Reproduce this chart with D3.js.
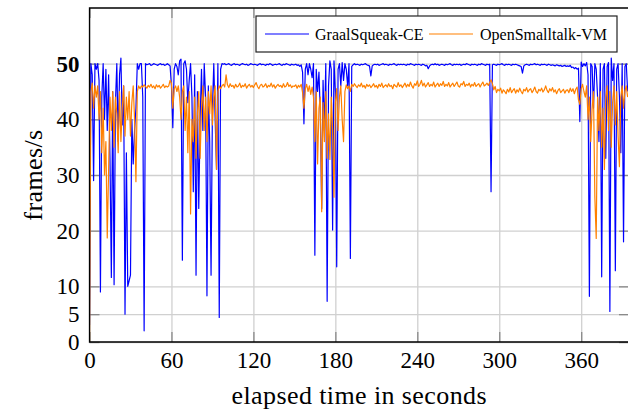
<!DOCTYPE html>
<html>
<head>
<meta charset="utf-8">
<script src="https://cdn.jsdelivr.net/npm/d3@7"></script>
<style>
    body { margin: 0; background: #fff; }
    text { font-family: "Liberation Serif", "Times New Roman", serif; fill: #000; }
</style>
</head>
<body>
<script>
// frame rate samples, one per second
var sampleStep = 1;

var seriesNames = ["GraalSqueak-CE", "OpenSmalltalk-VM"];

var graalFps = [
    3, 50, 48, 29, 50, 49, 50, 47, 9, 44,
    50, 40, 49, 38, 48, 33, 11.6, 45, 10.3, 43,
    50, 36, 48, 51, 39, 46, 5, 34, 10, 11,
    12, 40, 32, 38, 42, 50, 49, 50, 50, 44,
    2, 50, 49.8, 49.9, 50, 49.7, 49.8, 50, 49.9, 49.8,
    49.7, 49.9, 50, 49.8, 49.9, 49.7, 49.8, 50, 49.8, 49.6,
    46, 38.5, 49, 50, 49.5, 48, 50.5, 50.8, 14.7, 50,
    50.5, 49, 43, 47, 50, 44, 27, 48, 12, 45,
    24, 40, 49, 38, 50, 44, 8.3, 46, 36, 12,
    42, 50, 40, 31, 50, 4.4, 49, 50, 49.9, 50,
    49.8, 49.9, 50, 49.8, 49.7, 49.9, 50, 49.8, 49.9, 49.8,
    49.7, 49.9, 50, 49.9, 49.8, 49.9, 49.7, 49.8, 50, 49.9,
    49.8, 49.9, 49.8, 49.7, 49.9, 50, 49.8, 49.9, 49.8, 49.7,
    49.9, 49.8, 50, 49.9, 49.7, 49.8, 49.9, 49.8, 49.9, 50,
    49.8, 49.7, 49.9, 49.8, 50, 49.9, 49.8, 49.7, 49.9, 49.8,
    49.8, 49.9, 49.7, 49.8, 49.5, 49.8, 48.5, 39.2, 49, 50,
    48, 50, 49, 47.5, 50, 15.6, 49, 45, 48.5, 41,
    24, 47, 38, 50, 7.3, 46, 50.5, 49, 20.1, 50.5,
    45, 13.5, 49, 50, 46, 50.2, 47, 50, 49, 46,
    50, 15, 49.5, 49.8, 50, 49.8, 49.9, 49.8, 49.7, 49.9,
    49.8, 49.9, 50, 49.8, 49.7, 49.6, 47.8, 49.6, 49.8, 49.9,
    49.8, 49.9, 49.7, 49.8, 49.9, 50, 49.8, 49.9, 49.8, 49.7,
    49.9, 49.8, 49.9, 50, 49.8, 49.7, 49.9, 49.8, 49.9, 49.8,
    49.9, 49.8, 49.7, 49.9, 49.8, 50, 49.9, 49.8, 49.7, 49.9,
    49.8, 49.9, 49.8, 49.7, 49.9, 49.8, 49.6, 49.7, 49.1, 49.6,
    49.8, 49.9, 49.8, 50, 49.8, 49.9, 49.7, 49.8, 49.9, 49.8,
    49.7, 49.9, 49.8, 49.9, 50, 49.8, 49.7, 49.9, 49.8, 49.9,
    49.8, 49.9, 49.7, 49.8, 49.9, 49.8, 50, 49.9, 49.8, 49.7,
    49.9, 49.8, 49.9, 49.8, 49.7, 49.9, 49.8, 50, 49.9, 49.8,
    49.7, 49.9, 49.8, 49.9, 27, 49.8, 49.9, 49.8, 49.7, 49.9,
    49.8, 49.9, 50, 49.8, 49.7, 49.9, 49.8, 49.9, 49.8, 49.7,
    49.9, 49.8, 49.9, 49.8, 49.7, 49.6, 49.5, 48.3, 49.6, 49.8,
    49.9, 49.8, 49.7, 49.9, 49.8, 49.9, 50, 49.8, 49.9, 49.8,
    49.7, 49.9, 49.8, 49.9, 49.8, 49.7, 49.9, 49.8, 49.7, 49.8,
    49.7, 49.6, 49.8, 49.7, 49.6, 49.7, 49.5, 49.6, 49.7, 49.5,
    49.6, 49.5, 49.7, 49.3, 49.4, 49.1, 49.3, 49, 49.2, 39.6,
    50.3, 49.5, 50, 49.6, 50.2, 48, 8.2, 50, 49.5, 42,
    50, 49, 44, 36, 50, 11.7, 49, 50, 33, 49.5,
    50.2, 5.5, 51, 47, 50, 12.8, 49, 50, 44, 34,
    50, 18, 49.5, 50, 45
];

var openSmalltalkFps = [
    0, 45, 46.5, 42, 46, 44, 46, 40, 45, 34,
    42, 30, 36, 18.7, 31, 44, 38, 45, 35, 44,
    41, 34, 45, 36, 42, 46, 37, 44, 40, 45,
    37, 43, 46, 40, 28.8, 45, 46, 45.5, 46, 45.8,
    46.2, 45.9, 45.6, 46.1, 45.8, 46.3, 45.7, 46, 45.5, 46.2,
    45.8, 46.1, 45.6, 45.9, 46.3, 45.7, 46, 45.8, 46, 47,
    46.5, 42, 45.5, 46, 45, 46, 44, 40, 45, 46,
    38, 44, 34, 45, 23, 40, 36, 44, 33, 41,
    45, 33, 42, 46, 38, 44, 36, 45, 41, 46,
    39, 44, 46, 31, 45, 46, 45.5, 46, 46.3, 45.8,
    48, 46.2, 45.7, 46.4, 45.9, 46.1, 45.6, 46.3, 45.8, 46,
    46.5, 45.7, 46.1, 45.9, 46.4, 45.6, 46, 46.3, 45.8, 46.1,
    45.7, 46.2, 46.6, 45.9, 45.5, 46.1, 46.3, 45.8, 46, 46.4,
    45.7, 46.1, 45.9, 46.5, 45.8, 46.2, 45.6, 46, 46.3, 45.9,
    46.1, 45.7, 46.4, 45.8, 46, 46.6, 45.9, 46.2, 45.7, 46,
    45.9, 46.2, 45.6, 46.1, 45.8, 46.3, 44.8, 42, 45.5, 46.3,
    45, 46, 44.5, 45.8, 44, 36, 45, 32, 42, 44,
    23.4, 43, 36, 45, 33, 41, 32.8, 44, 38, 26,
    43, 45.5, 38, 44, 46, 40, 36, 45, 46.2, 45.5,
    46, 45, 46.3, 45.9, 46.4, 46, 45.7, 46.2, 45.9, 46.5,
    45.8, 46.1, 45.6, 46.3, 45.9, 46.2, 45.7, 46, 46.4, 45.8,
    46.1, 45.6, 46.3, 45.9, 46.5, 45.7, 46, 46.2, 45.8, 46.4,
    45.9, 46.1, 45.5, 46.3, 46, 45.8, 46.6, 45.9, 46.2, 45.7,
    46.1, 46.5, 45.8, 46.3, 45.9, 46.7, 46, 45.6, 46.4, 46.1,
    46.9, 45.9, 46.3, 47, 46, 46.5, 45.8, 46.2, 46.6, 45.9,
    46.3, 46, 46.7, 45.8, 46.2, 46.5, 45.9, 46.4, 46.1, 46.8,
    45.9, 46.3, 46, 46.6, 45.8, 46.2, 46.5, 45.9, 46.3, 46.7,
    46, 45.8, 46.4, 46.2, 46.8, 45.9, 46.3, 46.1, 46.5, 45.8,
    46.3, 46, 46.6, 45.9, 46.2, 46.4, 45.8, 46.3, 46.7, 46,
    46.2, 46.5, 46.1, 46.6, 47.1, 46.4, 45.3, 45.9, 44.8, 45.4,
    45.1, 45.6, 44.7, 45.3, 45, 44.6, 45.4, 44.9, 45.7, 44.8,
    45.2, 45.5, 44.7, 45.3, 44.9, 45.6, 45, 44.6, 45.4, 45.1,
    45.7, 44.9, 45.3, 45.5, 44.8, 45.2, 45.8, 45, 44.7, 45.4,
    45.1, 45.6, 44.9, 45.3, 46, 45.2, 44.8, 45.5, 45.1, 45.7,
    44.9, 45.3, 44.6, 45.2, 45.5, 44.8, 45.1, 45.4, 44.7, 45.2,
    45.3, 44.8, 45.6, 45, 45.5, 44.6, 45.4, 45.8, 43.5, 42.7,
    45.5, 46.3, 45, 44, 46, 40, 44, 36, 42, 45,
    26, 18.6, 44, 38, 45, 35, 42, 31, 44, 46,
    38, 45, 35, 43, 46, 39, 45, 37, 31.5, 44,
    46, 42, 45, 46, 44
];

var xTicks = [0, 60, 120, 180, 240, 300, 360];
var yTicks = [0, 5, 10, 20, 30, 40, 50];

// plot box inside the 628x412 picture (right edge runs off the picture)
var margin = {top: 8, right: -1, bottom: 70, left: 89.5},
    width = 628 - margin.left - margin.right,
    height = 412 - margin.top - margin.bottom;

var svg = d3.select("body").append("svg")
    .attr("width", 628)
    .attr("height", 412);

var g = svg.append("g")
    .attr("transform", "translate(" + margin.left + "," + margin.top + ")");

var xScale = d3.scaleLinear().domain([0, 395]).range([0, width]);
var yScale = d3.scaleLinear().domain([0, 60]).range([height, 0]);

// grid lines
g.append("g")
    .attr("transform", "translate(0," + height + ")")
    .call(d3.axisBottom(xScale).tickValues(xTicks).tickSize(-height)
        .tickFormat(""))
    .call(function(a) { a.select(".domain").remove(); })
    .selectAll("line")
    .attr("stroke", "#d0d0d0")
    .attr("stroke-width", 1.3);

g.append("g")
    .call(d3.axisLeft(yScale).tickValues(yTicks).tickSize(-width)
        .tickFormat(""))
    .call(function(a) { a.select(".domain").remove(); })
    .selectAll("line")
    .attr("stroke", "#d0d0d0")
    .attr("stroke-width", 1.3);

// inward tick marks on all four sides
function styleTicks(a) {
    a.select(".domain").remove();
    a.selectAll("line").attr("stroke", "#8a8a8a").attr("stroke-width", 1.3);
}

var xAxis = g.append("g")
    .attr("transform", "translate(0," + height + ")")
    .call(d3.axisBottom(xScale).tickValues(xTicks).tickSize(-10)
        .tickPadding(10))
    .call(styleTicks);

g.append("g")
    .call(d3.axisTop(xScale).tickValues(xTicks).tickSize(-10)
        .tickFormat(""))
    .call(styleTicks);

var yAxis = g.append("g")
    .call(d3.axisLeft(yScale).tickValues(yTicks).tickSize(-10)
        .tickPadding(10))
    .call(styleTicks);

g.append("g")
    .attr("transform", "translate(" + width + ",0)")
    .call(d3.axisRight(yScale).tickValues(yTicks).tickSize(-10)
        .tickFormat(""))
    .call(styleTicks);

xAxis.selectAll("text")
    .attr("font-size", "23px")
    .attr("font-family", "Liberation Serif");

yAxis.selectAll("text")
    .attr("font-size", "23px")
    .attr("font-family", "Liberation Serif")
    .attr("font-weight", function(d) { return d === 50 ? "bold" : "normal"; });

// the two series
svg.append("clipPath")
    .attr("id", "plotClip")
    .append("rect")
    .attr("width", width)
    .attr("height", height);

var line = d3.line()
    .x(function(d, i) { return xScale(i * sampleStep); })
    .y(function(d) { return yScale(d); });

var colors = ["#0000ff", "#ff8000"];

[graalFps, openSmalltalkFps].forEach(function(values, k) {
    g.append("path")
        .datum(values)
        .attr("clip-path", "url(#plotClip)")
        .attr("fill", "none")
        .attr("stroke", colors[k])
        .attr("stroke-width", 1.2)
        .attr("stroke-linejoin", "round")
        .attr("d", line);
});

// axis frame (left, top, bottom)
g.append("path")
    .attr("d", "M" + width + ",0H0V" + height + "H" + width)
    .attr("fill", "none")
    .attr("stroke", "#000")
    .attr("stroke-width", 1.3);

// axis titles
svg.append("text")
    .attr("x", margin.left + width / 2)
    .attr("y", 404)
    .attr("text-anchor", "middle")
    .attr("font-size", "26px")
    .attr("letter-spacing", "0.4px")
    .text("elapsed time in seconds");

svg.append("text")
    .attr("transform", "translate(42," + (margin.top + height / 2) + ") rotate(-90)")
    .attr("text-anchor", "middle")
    .attr("font-size", "26px")
    .attr("letter-spacing", "0.4px")
    .text("frames/s");

// legend
var legend = svg.append("g").attr("transform", "translate(256,16)");

legend.append("rect")
    .attr("width", 361)
    .attr("height", 36)
    .attr("fill", "#fff")
    .attr("stroke", "#222")
    .attr("stroke-width", 1.2);

var legendX = [[9, 59], [173, 224]];

seriesNames.forEach(function(name, k) {
    legend.append("line")
        .attr("x1", legendX[k][0])
        .attr("x2", legendX[k][0] + 44)
        .attr("y1", 18)
        .attr("y2", 18)
        .attr("stroke", colors[k])
        .attr("stroke-width", 1.2);
    legend.append("text")
        .attr("x", legendX[k][1])
        .attr("y", 23.5)
        .attr("font-size", "16px")
        .text(name);
});
</script>
</body>
</html>
